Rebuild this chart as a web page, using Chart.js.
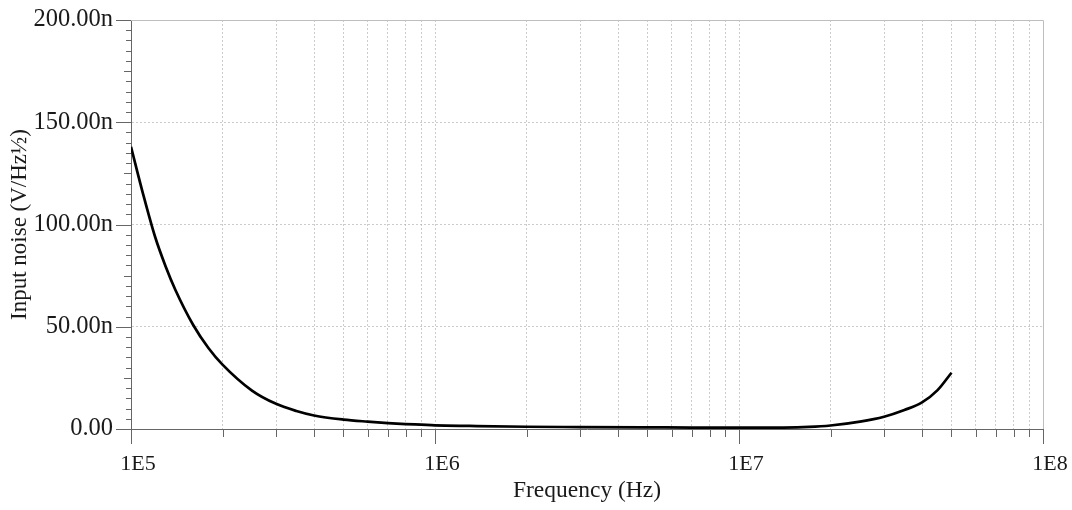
<!DOCTYPE html>
<html>
<head>
<meta charset="utf-8">
<script src="https://cdn.jsdelivr.net/npm/chart.js@4.4.1/dist/chart.umd.min.js"></script>
<style>
  html, body { margin: 0; padding: 0; background: #fff; }
  #wrap { width: 1072px; height: 510px; }
</style>
</head>
<body>
<div id="wrap"><canvas id="noiseChart" width="1072" height="510"></canvas></div>
<script>
// frequency (Hz) and input noise (nV/sqrt(Hz))
const freq = [1e5, 1.1e5, 1.2e5, 1.3e5, 1.4e5, 1.6e5, 1.8e5, 2e5, 2.5e5, 3e5, 3.5e5, 4e5, 5e5, 6e5, 7e5, 8e5, 9e5,
              1e6, 1.3e6, 2e6, 3e6, 5e6, 7e6, 1e7, 1.4e7, 1.7e7, 2e7, 2.5e7, 3e7, 3.5e7, 4e7, 4.5e7, 5e7];
const noise = [138, 114, 94, 79.5, 68, 51, 39.5, 31.5, 18.8, 12.3, 8.8, 6.6, 4.6, 3.6, 2.9, 2.4, 2.1,
               1.8, 1.5, 1.1, 0.95, 0.8, 0.7, 0.65, 0.7, 1.0, 1.7, 3.6, 6.0, 9.3, 13, 19, 27.5];
const decadeLabels = { 1e5: '1E5', 1e6: '1E6', 1e7: '1E7', 1e8: '1E8' };
const yMajor = [0, 50, 100, 150, 200];

const serif = "'Liberation Serif', 'Times New Roman', serif";
const inkColor = '#1a1a1a';
const axisColor = '#666666';
const gridColor = 'rgba(170,170,170,0.6)';

// x ticks at every 1..9 x 10^n
const xTicks = [];
for (let e = 5; e < 8; e++) for (let m = 1; m < 10; m++) xTicks.push(m * Math.pow(10, e));
xTicks.push(1e8);

// outer box on top/right and the little tick marks
const tickMarks = {
    id: 'tickMarks',
    afterDraw(chart) {
        const { ctx, chartArea: a, scales: { x, y } } = chart;
        ctx.save();
        ctx.strokeStyle = 'rgba(190,190,190,1)';
        ctx.lineWidth = 1;
        ctx.beginPath();
        ctx.moveTo(a.left, a.top + 0.5); ctx.lineTo(a.right + 0.5, a.top + 0.5);
        ctx.lineTo(a.right + 0.5, a.bottom);
        ctx.stroke();

        ctx.strokeStyle = axisColor;
        ctx.beginPath();
        xTicks.forEach(v => {
            const px = Math.round(x.getPixelForValue(v)) + 0.5;
            const len = decadeLabels[v] ? 15 : 8;
            ctx.moveTo(px, a.bottom); ctx.lineTo(px, a.bottom + len);
        });
        for (let v = 0; v <= 200; v += 5) {
            const py = Math.round(y.getPixelForValue(v)) + 0.5;
            const len = v % 50 === 0 ? 15 : (v % 25 === 0 ? 7 : 5);
            ctx.moveTo(a.left - len, py); ctx.lineTo(a.left, py);
        }
        ctx.stroke();
        ctx.restore();
    }
};

const ctx = document.querySelector('#noiseChart').getContext('2d');
new Chart(ctx, {
    type: 'line',
    data: {
        datasets: [{
            label: 'Input noise',
            data: freq.map((f, i) => ({ x: f, y: noise[i] })),
            borderColor: '#000',
            borderWidth: 2.7,
            pointRadius: 0,
            fill: false,
            cubicInterpolationMode: 'monotone'
        }]
    },
    options: {
        responsive: false,
        animation: false,
        layout: { padding: { top: 20, right: 29, left: 0, bottom: 0 } },
        plugins: { legend: { display: false }, tooltip: { enabled: false } },
        scales: {
            x: {
                type: 'logarithmic',
                min: 1e5,
                max: 1e8,
                afterBuildTicks: (scale) => { scale.ticks = xTicks.map(v => ({ value: v })); },
                afterFit: (scale) => { scale.height = 81; scale.paddingLeft = 0; scale.paddingRight = 0; },
                ticks: {
                    autoSkip: false,
                    maxRotation: 0,
                    padding: 22,
                    labelOffset: 7,
                    color: inkColor,
                    font: { family: serif, size: 22 },
                    callback: (v) => decadeLabels[v] || ''
                },
                grid: { drawTicks: false, color: (c) => c.tick && (c.tick.value === 1e5 || c.tick.value === 1e8) ? 'rgba(0,0,0,0)' : gridColor, lineWidth: 1 },
                border: { display: true, color: axisColor, dash: [2, 2] },
                title: { display: true, text: 'Frequency (Hz)', color: inkColor, font: { family: serif, size: 23.5 }, padding: { top: 0, bottom: 5 } }
            },
            y: {
                min: 0,
                max: 200,
                afterBuildTicks: (scale) => { scale.ticks = yMajor.map(v => ({ value: v })); },
                afterFit: (scale) => { scale.width = 131; scale.paddingTop = 0; scale.paddingBottom = 0; },
                ticks: {
                    padding: 18,
                    color: inkColor,
                    font: { family: serif, size: 24.5 },
                    callback: (v) => v === 0 ? '0.00' : v.toFixed(2) + 'n'
                },
                grid: { drawTicks: false, color: (c) => c.tick && (c.tick.value === 0 || c.tick.value === 200) ? 'rgba(0,0,0,0)' : gridColor, lineWidth: 1 },
                border: { display: true, color: axisColor, dash: [2, 2] },
                title: { display: true, text: 'Input noise (V/Hz½)', color: inkColor, font: { family: serif, size: 23 }, padding: { top: 6, bottom: 0 } }
            }
        }
    },
    plugins: [tickMarks]
});
</script>
</body>
</html>
